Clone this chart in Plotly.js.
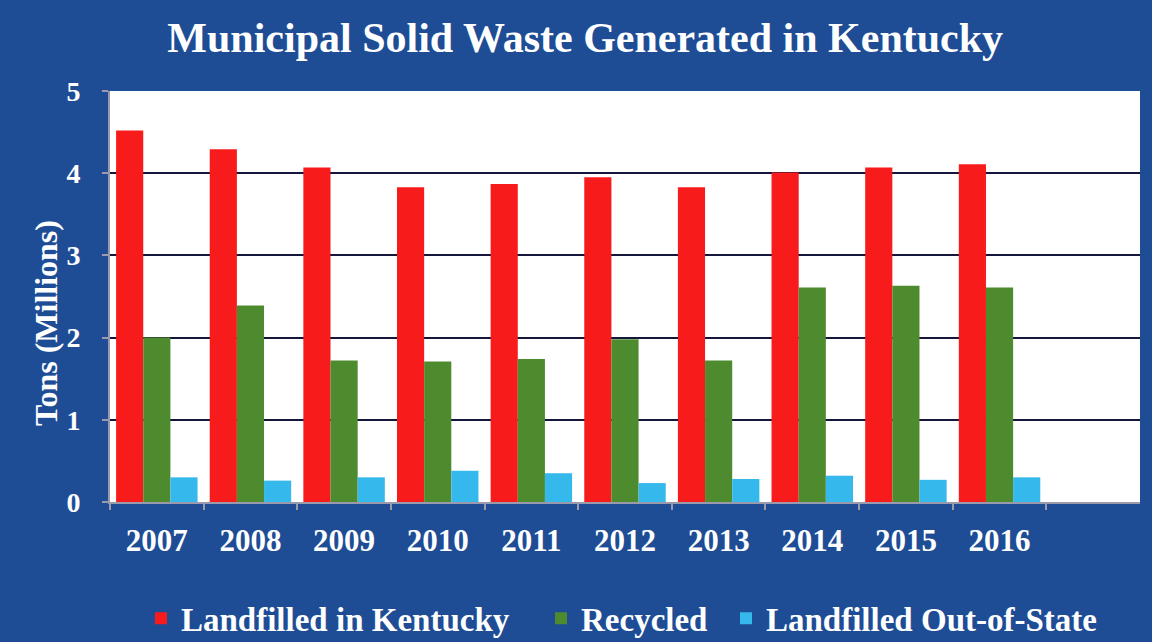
<!DOCTYPE html>
<html>
<head>
<meta charset="utf-8">
<script src="https://cdn.plot.ly/plotly-3.0.1.min.js"></script>
<style>html,body{margin:0;padding:0;background:#1E4D96;}#chart{width:1152px;height:642px;}</style>
</head>
<body>
<div id="chart"></div>
<script>
const years = ['2007','2008','2009','2010','2011','2012','2013','2014','2015','2016'];
const landfilledKY = [4.52, 4.29, 4.07, 3.83, 3.87, 3.95, 3.83, 4.01, 4.07, 4.11];
const recycled = [2.00, 2.39, 1.72, 1.71, 1.74, 1.98, 1.72, 2.61, 2.63, 2.61];
const landfilledOut = [0.30, 0.26, 0.30, 0.38, 0.35, 0.23, 0.28, 0.32, 0.27, 0.30];
const yTicks = [0, 1, 2, 3, 4, 5];
const yTitle = 'Tons (Millions)';

const serif = '"Liberation Serif", "Times New Roman", serif';
const data = [
  {type:'bar', name:'Landfilled in Kentucky', x:years, y:landfilledKY, marker:{color:'#F81B1B'}, legend:'legend'},
  {type:'bar', name:'Recycled', x:years, y:recycled, marker:{color:'#4E8B2E'}, legend:'legend2'},
  {type:'bar', name:'Landfilled Out-of-State', x:years, y:landfilledOut, marker:{color:'#35B9EC'}, legend:'legend3'}
];
const legFont = {family:serif, size:33, color:'#FFFFFF', weight:'bold'};
function leg(xpx){
  return {orientation:'h', xref:'container', yref:'container', x:xpx/1152, xanchor:'left', y:0.037, yanchor:'middle',
          font:legFont, bgcolor:'rgba(0,0,0,0)', itemwidth:30};
}
const layout = {
  width:1152, height:642,
  font:{family:serif, color:'#FFFFFF', weight:'bold'},
  paper_bgcolor:'#1E4D96', plot_bgcolor:'#FFFFFF',
  margin:{l:110, r:12, t:91, b:140},
  barmode:'group', bargap:0.13, bargroupgap:0,
  title:{text:'Municipal Solid Waste Generated in Kentucky', x:0.508, xanchor:'center', y:0.942, yanchor:'middle',
         font:{family:serif, size:42, color:'#FFFFFF', weight:'bold'}},
  xaxis:{type:'category', range:[-0.5, 10.5], tickson:'boundaries', ticks:'outside', ticklen:6, tickcolor:'#9a9aaa', tickwidth:2,
         showline:true, linecolor:'#9a9aaa', linewidth:2, showgrid:false, ticklabelstandoff:10,
         tickfont:{family:serif, size:31, color:'#FFFFFF', weight:'bold'}, fixedrange:true},
  yaxis:{range:[0,5], tickvals:yTicks, ticks:'outside', ticklen:6, tickcolor:'#9a9aaa', tickwidth:2,
         showline:true, linecolor:'#9a9aaa', linewidth:2, showgrid:true, gridcolor:'#14163C', gridwidth:2,
         zeroline:false, ticklabelstandoff:16,
         tickfont:{family:serif, size:28, color:'#FFFFFF', weight:'bold'}},
  annotations:[{text:yTitle, xref:'paper', yref:'paper', x:(46-110)/1030, y:(502-323)/411, xanchor:'center', yanchor:'middle',
                textangle:-90, showarrow:false, font:{family:serif, size:32, color:'#FFFFFF', weight:'bold'}}],
  legend:leg(141),
  legend2:leg(541),
  legend3:leg(726),
  showlegend:true
};
Plotly.newPlot('chart', data, layout, {displayModeBar:false, staticPlot:true});
</script>
</body>
</html>
